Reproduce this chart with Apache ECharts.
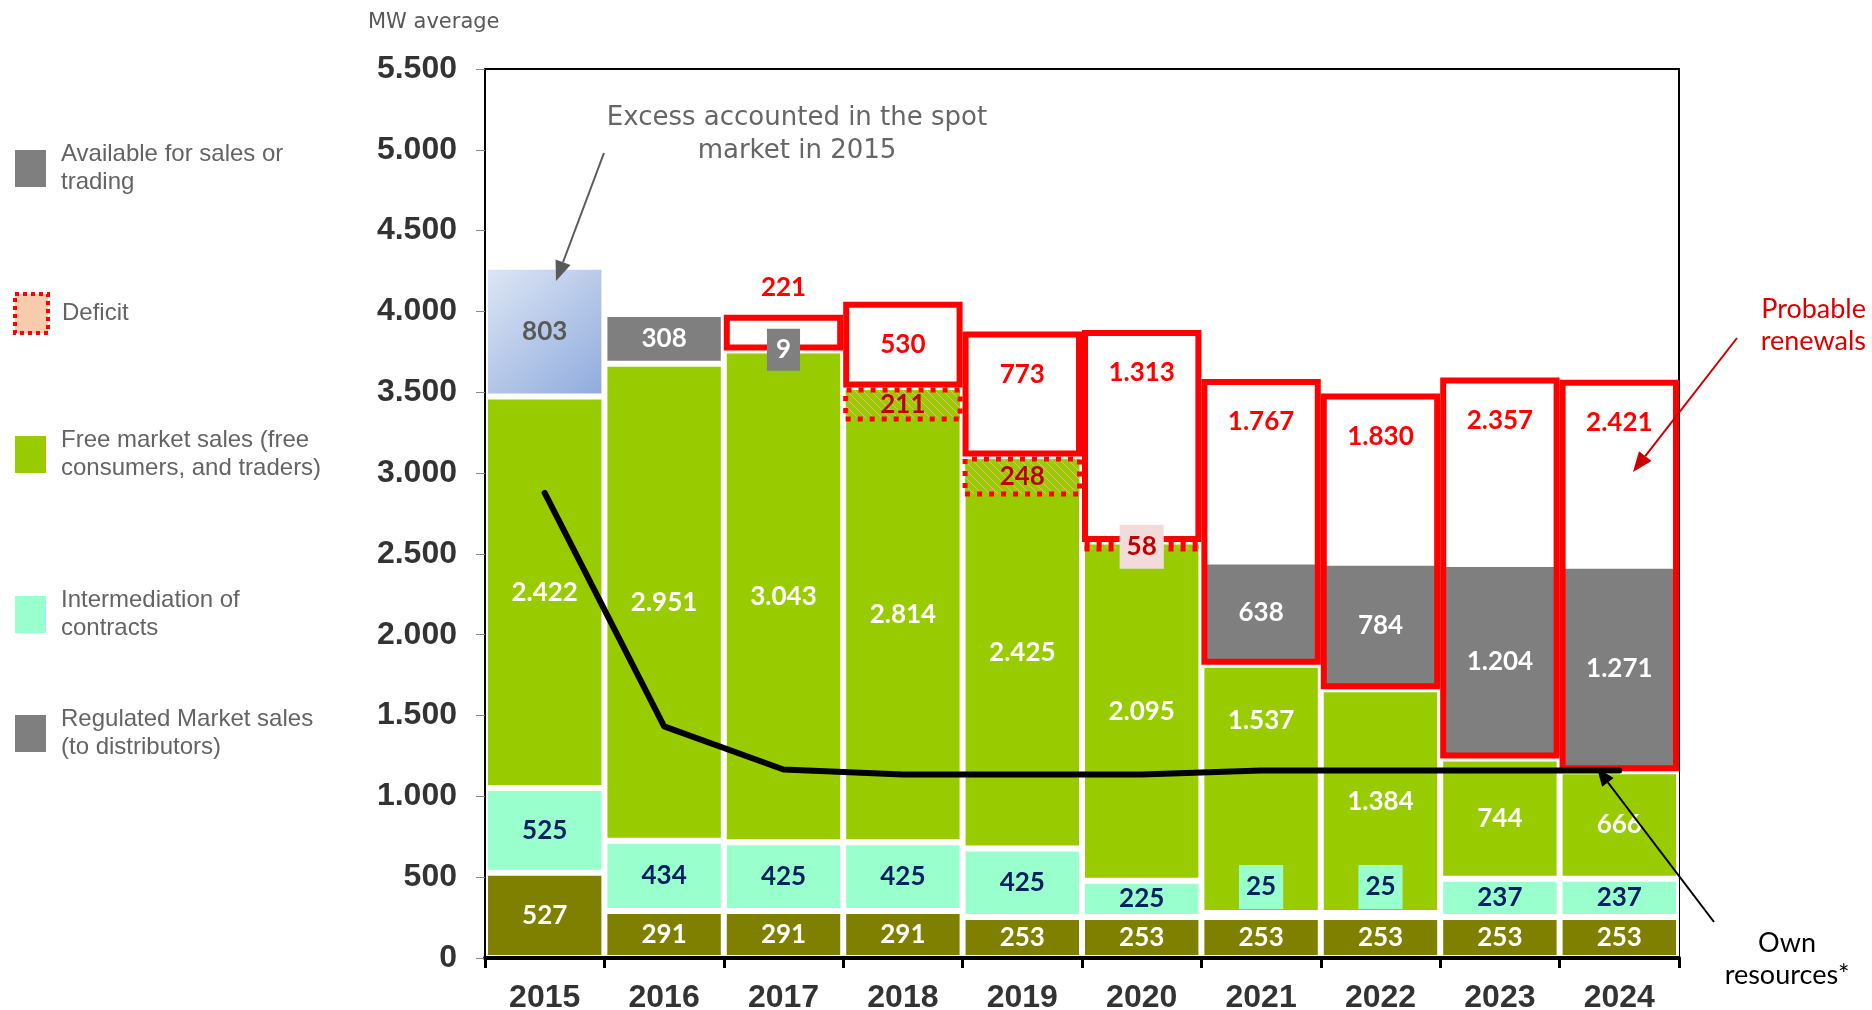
<!DOCTYPE html>
<html>
<head>
<meta charset="utf-8">
<title>MW average</title>
<script src="https://cdn.jsdelivr.net/npm/echarts@6/dist/echarts.min.js"></script>
<style>
  html, body { margin: 0; padding: 0; background: #fff; }
  #chart { width: 1872px; height: 1010px; }
</style>
</head>
<body>
<div id="chart"></div>
<script>
// values (MW average)
const years = ['2015', '2016', '2017', '2018', '2019', '2020', '2021', '2022', '2023', '2024'];
const regulated = [527, 291, 291, 291, 253, 253, 253, 253, 253, 253];
const intermediation = [525, 434, 425, 425, 425, 225, 25, 25, 237, 237];
const freeMarket = [2422, 2951, 3043, 2814, 2425, 2095, 1537, 1384, 744, 666];
const available = [803, 308, 9, null, null, null, 638, 784, 1204, 1271];
const deficit = [null, null, null, 211, 248, 58, null, null, null, null];
const renewals = [null, null, 221, 530, 773, 1313, 1767, 1830, 2357, 2421];
const ownResources = [2878, 1433, 1166, 1135, 1135, 1135, 1160, 1160, 1160, 1160];

const names = {
  available: 'Available for sales or trading',
  deficit: 'Deficit',
  free: 'Free market sales (free consumers, and traders)',
  inter: 'Intermediation of contracts',
  regulated: 'Regulated Market sales (to distributors)'
};
const wrapped = {
  [names.available]: 'Available for sales or\ntrading',
  [names.deficit]: 'Deficit',
  [names.free]: 'Free market sales (free\nconsumers, and traders)',
  [names.inter]: 'Intermediation of\ncontracts',
  [names.regulated]: 'Regulated Market sales\n(to distributors)'
};

const fmt = v => String(v).replace(/\B(?=(\d{3})+(?!\d))/g, '.');

// hatched fill for the deficit slices
const hatch = document.createElement('canvas');
hatch.width = 8; hatch.height = 8;
const hctx = hatch.getContext('2d');
hctx.fillStyle = '#99cc00';
hctx.fillRect(0, 0, 8, 8);
hctx.strokeStyle = 'rgba(255,170,170,0.9)';
hctx.lineWidth = 1;
hctx.beginPath();
hctx.moveTo(0, 0); hctx.lineTo(8, 8);
hctx.moveTo(-4, 4); hctx.lineTo(4, 12);
hctx.moveTo(4, -4); hctx.lineTo(12, 4);
hctx.stroke();

const totals = years.map((_, i) => regulated[i] + intermediation[i] + freeMarket[i]);
const deficitBase = deficit.map((d, i) => d == null ? null : totals[i] - d);
const renewBase = renewals.map((r, i) => r == null ? null : totals[i]);

const freeLabelNudge = { '2021': -68 };

const baseLabel = {
  show: true,
  fontFamily: 'Lato',
  fontWeight: 'bold',
  fontSize: 26,
  formatter: p => fmt(p.value)
};

const barCommon = {
  type: 'bar',
  barWidth: '100%',
  barGap: '-100%',
  emphasis: { disabled: true }
};

const hidden = {
  ...barCommon,
  silent: true,
  itemStyle: { color: 'rgba(0,0,0,0)', borderWidth: 0 },
  label: { show: false }
};

function arrow(x1, y1, x2, y2, color, w, head) {
  const a = Math.atan2(y2 - y1, x2 - x1);
  const bx = x2 - head * Math.cos(a), by = y2 - head * Math.sin(a);
  const px = Math.sin(a) * head * 0.4, py = -Math.cos(a) * head * 0.4;
  return [
    { type: 'line', z: 100, shape: { x1, y1, x2: bx, y2: by }, style: { stroke: color, lineWidth: w } },
    { type: 'polygon', z: 100, shape: { points: [[x2, y2], [bx + px, by + py], [bx - px, by - py]] }, style: { fill: color } }
  ];
}

function oneLegend(name, top, itemStyle) {
  return {
    data: [{ name, itemStyle }],
    left: 13,
    top,
    orient: 'vertical',
    padding: 0,
    icon: 'rect',
    itemWidth: 33,
    itemHeight: 39,
    selectedMode: false,
    formatter: n => wrapped[n],
    textStyle: {
      fontFamily: 'Liberation Sans',
      fontSize: 24,
      lineHeight: 28,
      color: '#646464',
      padding: [9, 0, 0, 9]
    }
  };
}

const chart = echarts.init(document.getElementById('chart'));

chart.setOption({
  animation: false,
  backgroundColor: '#fff',
  grid: {
    left: 485, right: 193, top: 69, bottom: 52,
    show: true, borderColor: '#000', borderWidth: 2,
    containLabel: false, outerBoundsMode: 'none'
  },
  legend: [
    oneLegend(names.available, 136, { color: '#7f7f7f' }),
    oneLegend(names.deficit, 292, { color: '#f8cbad', borderColor: '#ff0000', borderWidth: 4, borderType: [4, 4] }),
    oneLegend(names.free, 422, { color: '#99cc00' }),
    oneLegend(names.inter, 582, { color: '#99ffcc' }),
    oneLegend(names.regulated, 701, { color: '#7f7f7f' })
  ],
  xAxis: {
    type: 'category',
    data: years,
    z: 5,
    axisLine: { lineStyle: { color: '#000', width: 4 } },
    axisTick: { show: true, length: 10, lineStyle: { color: '#000', width: 3 } },
    axisLabel: { margin: 24, fontFamily: 'Liberation Sans', fontWeight: 'bold', fontSize: 32, color: '#333' }
  },
  yAxis: {
    type: 'value',
    min: 0, max: 5500, interval: 500,
    z: 5,
    splitLine: { show: false },
    axisLine: { show: true, lineStyle: { color: '#000', width: 2 } },
    axisTick: { show: true, length: 9, lineStyle: { color: '#888', width: 1 } },
    axisLabel: {
      margin: 28, fontFamily: 'Liberation Sans', fontWeight: 'bold', fontSize: 32, color: '#333',
      formatter: v => fmt(v)
    }
  },
  series: [
    {
      ...barCommon, name: names.regulated, stack: 'a', data: regulated,
      itemStyle: { color: '#808000', borderColor: '#fff', borderWidth: 3 },
      label: { ...baseLabel, color: '#fff' }
    },
    {
      ...barCommon, name: names.inter, stack: 'a',
      data: intermediation.map(v => v < 100
        ? { value: v, label: { position: 'top', distance: 4, backgroundColor: '#99ffcc', padding: [9, 7] } }
        : v),
      itemStyle: { color: '#99ffcc', borderColor: '#fff', borderWidth: 3 },
      label: { ...baseLabel, color: '#002060' }
    },
    {
      ...barCommon, name: names.free, stack: 'a',
      data: freeMarket.map((v, i) => freeLabelNudge[years[i]]
        ? { value: v, label: { offset: [0, freeLabelNudge[years[i]]] } }
        : v),
      itemStyle: { color: '#99cc00', borderColor: '#fff', borderWidth: 3 },
      label: { ...baseLabel, color: '#fff' }
    },
    {
      ...barCommon, name: names.available, stack: 'a',
      data: available.map((v, i) => {
        if (v == null) return null;
        if (years[i] === '2015') {
          return {
            value: v,
            itemStyle: {
              color: { type: 'linear', x: 0, y: 0, x2: 1, y2: 1,
                colorStops: [{ offset: 0, color: '#dfe7f5' }, { offset: 1, color: '#8eaadc' }] }
            },
            label: { color: '#595959' }
          };
        }
        if (v < 50) return { value: v, label: { backgroundColor: '#7f7f7f', padding: [8, 9] } };
        return v;
      }),
      itemStyle: { color: '#7f7f7f', borderColor: '#fff', borderWidth: 3 },
      label: { ...baseLabel, color: '#fff' }
    },
    { ...hidden, name: 'deficitBase', stack: 'c', data: deficitBase },
    {
      ...barCommon, name: names.deficit, stack: 'c',
      data: deficit.map(v => v == null ? null
        : (v < 100 ? { value: v, label: { backgroundColor: '#f2dcdb', padding: [9, 7] } } : v)),
      itemStyle: { color: { image: hatch, repeat: 'repeat' }, borderColor: '#ff0000', borderWidth: 5, borderType: [5, 7] },
      label: { ...baseLabel, color: '#c00000' }
    },
    { ...hidden, name: 'renewBase', stack: 'b', data: renewBase },
    {
      ...barCommon, name: 'Probable renewals', stack: 'b',
      data: renewals.map(v => v == null ? null
        : (v < 300 ? { value: v, label: { position: 'top', distance: 14 } } : v)),
      itemStyle: { color: 'rgba(0,0,0,0)', borderColor: '#ff0000', borderWidth: 6 },
      label: { ...baseLabel, color: '#ff0000', position: 'insideTop', distance: 30 }
    },
    {
      type: 'line', name: 'Own resources', data: ownResources, z: 6,
      symbol: 'none',
      lineStyle: { color: '#000', width: 6, cap: 'round' },
      emphasis: { disabled: true }
    }
  ],
  graphic: [
    {
      type: 'text', x: 368, y: 12, z: 100,
      style: { text: 'MW average', font: '21px "DejaVu Sans"', fill: '#595959' }
    },
    {
      type: 'text', x: 797, y: 102, z: 100,
      style: {
        text: 'Excess accounted in the spot\nmarket in 2015', font: '26px "DejaVu Sans"',
        fill: '#666', align: 'center', verticalAlign: 'top', lineHeight: 33
      }
    },
    ...arrow(604, 153, 556, 281, '#5a5a5a', 2, 20),
    {
      type: 'text', x: 1866, y: 293, z: 100,
      style: {
        text: 'Probable\nrenewals', font: '27px Lato', fill: '#dd0000',
        align: 'right', verticalAlign: 'top', lineHeight: 32
      }
    },
    ...arrow(1737, 338, 1633, 472, '#cc0000', 2, 20),
    {
      type: 'text', x: 1787, y: 927, z: 100,
      style: {
        text: 'Own\nresources*', font: '27px Lato', fill: '#000',
        align: 'center', verticalAlign: 'top', lineHeight: 32
      }
    },
    ...arrow(1714, 922, 1597, 768, '#000', 2, 18)
  ]
});
</script>
</body>
</html>
